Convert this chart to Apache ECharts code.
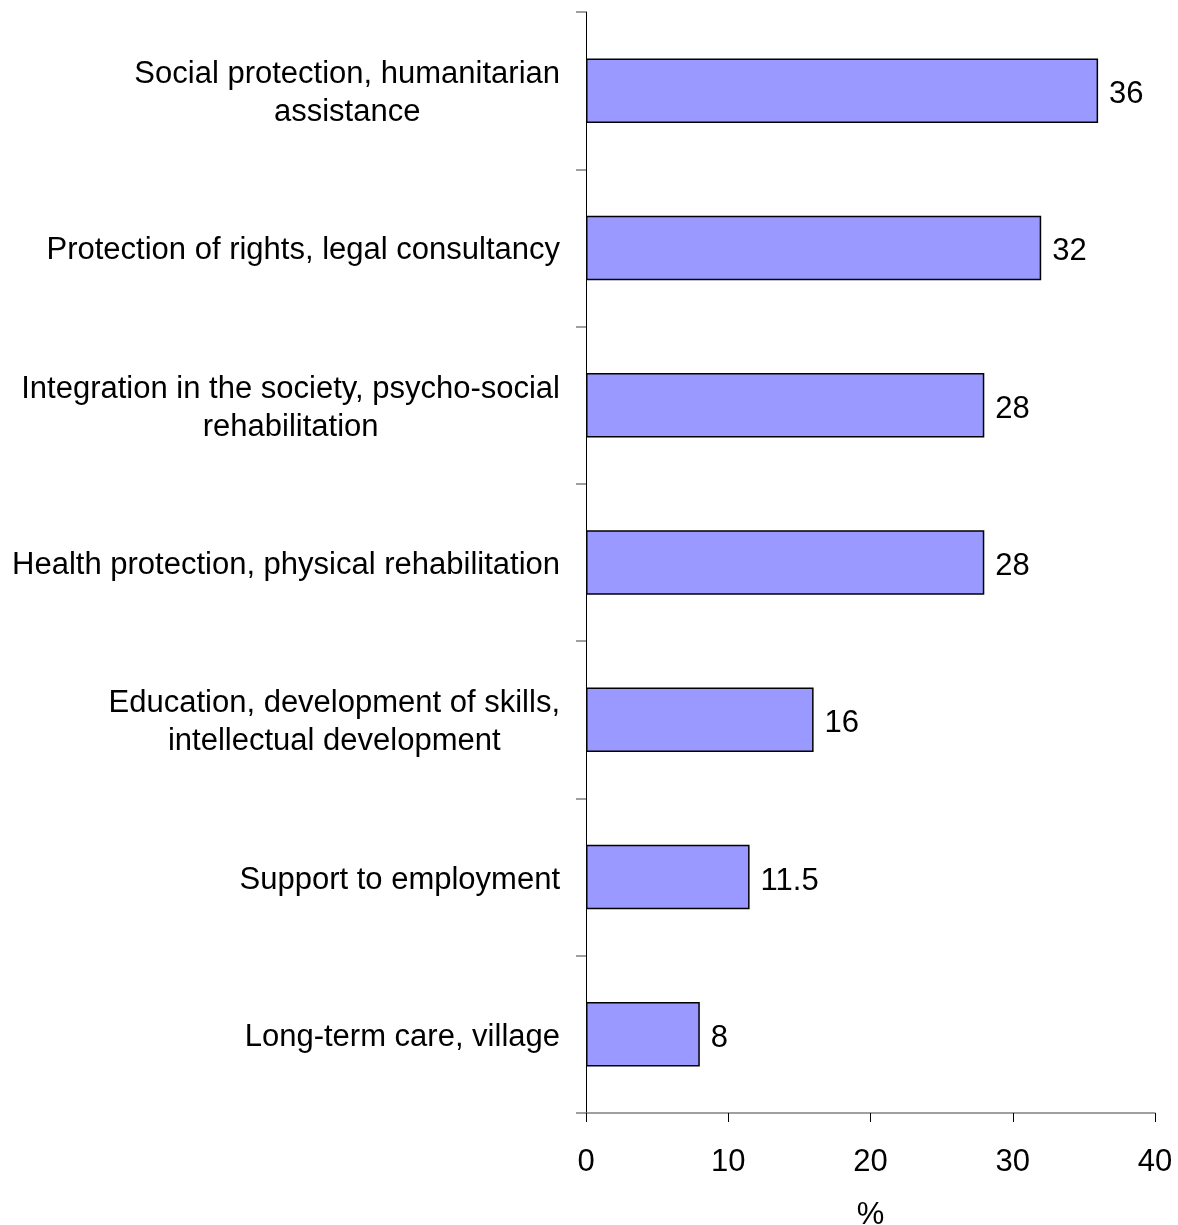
<!DOCTYPE html>
<html>
<head>
<meta charset="utf-8">
<script src="https://cdn.jsdelivr.net/npm/echarts@6/dist/echarts.min.js"></script>
<style>
html,body{margin:0;padding:0;background:#fff;overflow:hidden;}
#chart{width:1178px;height:1225px;}
</style>
</head>
<body>
<div id="chart"></div>
<script>
var categories = [
  "Social protection, humanitarian\nassistance",
  "Protection of rights, legal consultancy",
  "Integration in the society, psycho-social\nrehabilitation",
  "Health protection, physical rehabilitation",
  "Education, development of skills,\nintellectual development",
  "Support to employment",
  "Long-term care, village"
];
var values = [36, 32, 28, 28, 16, 11.5, 8];
var xTicks = [0, 10, 20, 30, 40];
var xName = "%";

var FONT = "'Liberation Sans', Arial, Helvetica, sans-serif";
var FS = 31;

var chart = echarts.init(document.getElementById('chart'), null, {renderer: 'canvas'});
chart.setOption({
  backgroundColor: '#ffffff',
  animation: false,
  grid: {left: 586, right: 23, top: 12, bottom: 112, containLabel: false, outerBoundsMode: 'none'},
  xAxis: {
    type: 'value',
    min: xTicks[0],
    max: xTicks[xTicks.length - 1],
    interval: xTicks[1] - xTicks[0],
    name: xName,
    nameLocation: 'middle',
    nameGap: 87,
    nameTextStyle: {fontFamily: FONT, fontSize: FS, color: '#000'},
    axisLine: {show: true, lineStyle: {color: '#808080', width: 1.5}},
    axisTick: {show: true, inside: false, length: 9, lineStyle: {color: '#000', width: 1}},
    axisLabel: {fontFamily: FONT, fontSize: FS, color: '#000', margin: 34},
    splitLine: {show: false}
  },
  yAxis: {
    type: 'category',
    inverse: true,
    data: categories,
    axisLine: {show: true, lineStyle: {color: '#000', width: 1}},
    axisTick: {show: true, inside: false, length: 10, lineStyle: {color: '#808080', width: 1.5}},
    axisLabel: {
      margin: 26,
      align: 'right',
      fontFamily: FONT,
      fontSize: FS,
      color: '#000',
      lineHeight: 38,
      padding: [6, 0, 0, 0],
      formatter: function (v) {
        return v.split('\n').map(function (l) { return '{c|' + l + '}'; }).join('\n');
      },
      rich: {
        c: {align: 'center', fontFamily: FONT, fontSize: FS, color: '#000', lineHeight: 38}
      }
    },
    splitLine: {show: false}
  },
  series: [{
    type: 'bar',
    data: values,
    barWidth: '41%',
    itemStyle: {color: '#9999FF', borderColor: '#000', borderWidth: 1.5},
    label: {
      show: true,
      position: 'right',
      distance: 11,
      offset: [0, 4],
      fontFamily: FONT,
      fontSize: FS,
      color: '#000'
    }
  }]
});
</script>
</body>
</html>
